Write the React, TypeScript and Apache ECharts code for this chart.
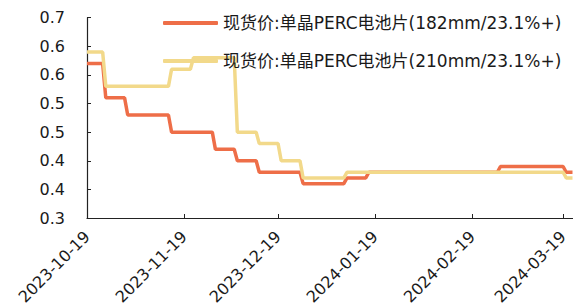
import React, { useEffect, useRef } from 'react';
import * as echarts from 'echarts';

// Axis range (category axis of calendar days)
const startDate = '2023-10-19';
const endDate = '2024-03-22';

const redName = '现货价:单晶PERC电池片(182mm/23.1%+)';
const yellowName = '现货价:单晶PERC电池片(210mm/23.1%+)';

// Price points; price holds between listed dates
const redDates = [
  '2023-10-19', '2023-10-24', '2023-10-25', '2023-10-31', '2023-11-01', '2023-11-14',
  '2023-11-15', '2023-11-28', '2023-11-29', '2023-12-05', '2023-12-06', '2023-12-12',
  '2023-12-13', '2023-12-26', '2023-12-27', '2024-01-09', '2024-01-10', '2024-01-16',
  '2024-01-17', '2024-02-27', '2024-02-28', '2024-03-19', '2024-03-20', '2024-03-22',
];
const redValues = [
  0.57, 0.57, 0.51, 0.51, 0.48, 0.48,
  0.45, 0.45, 0.42, 0.42, 0.40, 0.40,
  0.38, 0.38, 0.36, 0.36, 0.37, 0.37,
  0.38, 0.38, 0.39, 0.39, 0.38, 0.38,
];

const yellowDates = [
  '2023-10-19', '2023-10-24', '2023-10-25', '2023-11-14', '2023-11-15', '2023-11-21',
  '2023-11-22', '2023-12-05', '2023-12-06', '2023-12-12', '2023-12-13', '2023-12-19',
  '2023-12-20', '2023-12-26', '2023-12-27', '2024-01-09', '2024-01-10', '2024-03-19',
  '2024-03-20', '2024-03-22',
];
const yellowValues = [
  0.59, 0.59, 0.53, 0.53, 0.56, 0.56,
  0.58, 0.58, 0.45, 0.45, 0.43, 0.43,
  0.40, 0.40, 0.37, 0.37, 0.38, 0.38,
  0.37, 0.37,
];

const yMin = 0.3;
const yMax = 0.65;
const yInterval = 0.05;

function fmt(d: Date) {
  const m = String(d.getUTCMonth() + 1).padStart(2, '0');
  const day = String(d.getUTCDate()).padStart(2, '0');
  return `${d.getUTCFullYear()}-${m}-${day}`;
}

function buildDays(start: string, end: string) {
  const out: string[] = [];
  const d = new Date(start + 'T00:00:00Z');
  const e = new Date(end + 'T00:00:00Z');
  while (d.getTime() <= e.getTime()) {
    out.push(fmt(d));
    d.setUTCDate(d.getUTCDate() + 1);
  }
  return out;
}

const FONT = '"DejaVu Sans", "Noto Sans CJK SC", sans-serif';

export default function App() {
  const ref = useRef<HTMLDivElement>(null);
  useEffect(() => {
    if (!ref.current) return;
    const chart = echarts.init(ref.current, null, { renderer: 'svg' });
    const days = buildDays(startDate, endDate);
    const isTick = (_i: number, v: string) => v.endsWith('-19');
    chart.setOption({
      animation: false,
      backgroundColor: '#ffffff',
      grid: { left: 87, top: 17.7, right: 0.5, bottom: 90, outerBoundsMode: 'none' },
      legend: {
        orient: 'vertical',
        left: 158,
        top: 8,
        icon: 'roundRect',
        itemWidth: 55,
        itemHeight: 4,
        itemGap: 18,
        textStyle: { fontSize: 17, lineHeight: 20, color: '#1a1a1a', fontFamily: FONT },
        data: [redName, yellowName],
      },
      xAxis: {
        type: 'category',
        data: days,
        boundaryGap: false,
        axisLine: { lineStyle: { color: '#222', width: 1.2 } },
        axisTick: { inside: true, length: 4, interval: isTick, lineStyle: { color: '#222' } },
        axisLabel: {
          interval: isTick,
          rotate: 45,
          margin: 16,
          fontSize: 16,
          color: '#1a1a1a',
          fontFamily: FONT,
        },
        splitLine: { show: false },
      },
      yAxis: {
        type: 'value',
        min: yMin,
        max: yMax,
        interval: yInterval,
        axisLine: { show: true, lineStyle: { color: '#222', width: 1.2 } },
        axisTick: { show: true, inside: true, length: 4, lineStyle: { color: '#222' } },
        axisLabel: {
          margin: 22,
          fontSize: 16,
          color: '#1a1a1a',
          fontFamily: FONT,
          formatter: (v: number) => (Math.round(v * 10 + 1e-6) / 10).toFixed(1),
        },
        splitLine: { show: false },
      },
      series: [
        {
          name: redName,
          type: 'line',
          symbol: 'none',
          lineStyle: { color: '#EE6E48', width: 3.5 },
          itemStyle: { color: '#EE6E48' },
          data: redDates.map((d, i) => [d, redValues[i]]),
        },
        {
          name: yellowName,
          type: 'line',
          symbol: 'none',
          lineStyle: { color: '#F2D98A', width: 3.5 },
          itemStyle: { color: '#F2D98A' },
          data: yellowDates.map((d, i) => [d, yellowValues[i]]),
        },
      ],
    });
    return () => chart.dispose();
  }, []);
  return (
    <div
      ref={ref}
      style={{ position: 'fixed', left: 0, top: 0, width: 573, height: 308 }}
    />
  );
}
